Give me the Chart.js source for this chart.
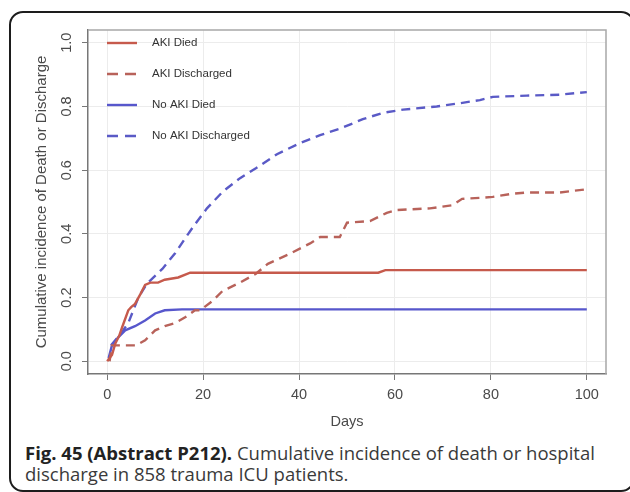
<!DOCTYPE html>
<html>
<head>
<meta charset="utf-8">
<script src="https://cdn.jsdelivr.net/npm/chart.js@4/dist/chart.umd.min.js"></script>
<style>
  html, body { margin: 0; padding: 0; background: #fff; }
  #page { position: relative; width: 630px; height: 492px; overflow: hidden; }
  #frame {
    position: absolute; left: 9px; top: 11px; width: 626px; height: 481px;
    border: 2px solid #1d1d1d; border-radius: 14px; box-sizing: border-box;
  }
  #chart { position: absolute; left: 0; top: 0; }
  #caption {
    position: absolute; left: 25px; top: 442px; width: 600px;
    font-family: "Open Sans", sans-serif; font-size: 18.5px; line-height: 21px;
    color: #3a3a3a;
  }
  #caption b { font-weight: 700; color: #222; }
</style>
</head>
<body>
<div id="page">
  <div id="frame"></div>
  <canvas id="chart" width="630" height="440"></canvas>
  <div id="caption"><b>Fig. 45 (Abstract P212).</b> Cumulative incidence of death or hospital discharge in 858 trauma ICU patients.</div>
</div>
<script>
// Series (days, cumulative incidence)
const seriesLabels = ["AKI Died", "AKI Discharged", "No AKI Died", "No AKI Discharged"];

const akiDiedDays = [0, 0.5, 1, 1.7, 2.5, 3.1, 4.4, 5, 5.8, 6.9, 7.9, 9, 10.6, 12, 14.8, 17.3, 56.5, 58, 100];
const akiDiedValues = [0, 0.01, 0.02, 0.056, 0.08, 0.106, 0.16, 0.17, 0.18, 0.21, 0.24, 0.247, 0.247, 0.256, 0.263, 0.278, 0.278, 0.286, 0.286];

const akiDischargedDays = [0.5, 1, 6, 7.9, 10, 12, 14.2, 16.25, 18.3, 19.4, 22, 24, 27.7, 31, 33.5, 38, 42.3, 44.4, 48.5, 50, 54.8, 58.3, 60.4, 67.3, 72, 74, 77.7, 80.4, 84, 87.5, 94.4, 100];
const akiDischargedValues = [0, 0.05, 0.05, 0.066, 0.097, 0.11, 0.12, 0.138, 0.16, 0.16, 0.19, 0.22, 0.247, 0.275, 0.306, 0.337, 0.37, 0.39, 0.39, 0.435, 0.44, 0.466, 0.475, 0.48, 0.49, 0.51, 0.513, 0.516, 0.525, 0.53, 0.53, 0.54];

const noAkiDiedDays = [0.3, 1, 2.3, 3.75, 5.8, 7.9, 10, 12, 15.6, 100];
const noAkiDiedValues = [0.01, 0.05, 0.075, 0.097, 0.11, 0.128, 0.15, 0.16, 0.163, 0.163];

const noAkiDischargedDays = [0.8, 3, 4.4, 6.5, 8.3, 11.5, 14.2, 16.9, 18.3, 20.8, 24.2, 27.7, 31, 35.4, 40.2, 44.4, 48.5, 53.3, 57.5, 61.7, 68.7, 73.5, 77.7, 80.4, 87.5, 94.4, 100];
const noAkiDischargedValues = [0.05, 0.09, 0.12, 0.2, 0.244, 0.29, 0.34, 0.4, 0.43, 0.48, 0.534, 0.575, 0.606, 0.65, 0.685, 0.71, 0.73, 0.76, 0.78, 0.79, 0.8, 0.81, 0.82, 0.83, 0.834, 0.837, 0.845];

const xTicks = [0, 20, 40, 60, 80, 100];
const yTicks = [0, 0.2, 0.4, 0.6, 0.8, 1.0];
const yTickLabels = ["0.0", "0.2", "0.4", "0.6", "0.8", "1.0"];
const xTitle = "Days";
const yTitle = "Cumulative incidence of Death or Discharge";

const RED = "#c65a4c";
const RED_DASH = "#b8625a";
const BLUE = "#5757cc";
const BLUE_DASH = "#5a5ac6";
const AXIS_FONT = "Liberation Sans, Arial, sans-serif";

function toPoints(days, values) {
  return days.map((d, i) => ({ x: d, y: values[i] }));
}

const datasets = [
  { label: seriesLabels[0], data: toPoints(akiDiedDays, akiDiedValues), borderColor: RED, borderDash: [] },
  { label: seriesLabels[1], data: toPoints(akiDischargedDays, akiDischargedValues), borderColor: RED_DASH, borderDash: [9, 6] },
  { label: seriesLabels[2], data: toPoints(noAkiDiedDays, noAkiDiedValues), borderColor: BLUE, borderDash: [] },
  { label: seriesLabels[3], data: toPoints(noAkiDischargedDays, noAkiDischargedValues), borderColor: BLUE_DASH, borderDash: [9, 6] },
].map((ds) => ({ ...ds, borderWidth: 2.4, pointRadius: 0, tension: 0, fill: false }));

// Box on top/right, rotated y labels, y title and the inner legend
const decorations = {
  id: "decorations",
  beforeDatasetsDraw(chart) {
    const { ctx, chartArea: a } = chart;
    ctx.save();
    ctx.strokeStyle = "#a8a8a8";
    ctx.lineWidth = 1.5;
    ctx.beginPath();
    ctx.moveTo(a.left, a.top);
    ctx.lineTo(a.right, a.top);
    ctx.lineTo(a.right, a.bottom);
    ctx.stroke();
    ctx.restore();
  },
  afterDraw(chart) {
    const { ctx, chartArea: a } = chart;
    const yScale = chart.scales.y;
    ctx.save();
    ctx.fillStyle = "#4a4a4a";
    ctx.font = "14.5px " + AXIS_FONT;
    ctx.textAlign = "center";
    ctx.textBaseline = "middle";
    yTicks.forEach((v, i) => {
      ctx.save();
      ctx.translate(67, yScale.getPixelForValue(v));
      ctx.rotate(-Math.PI / 2);
      ctx.fillText(yTickLabels[i], 0, 0);
      ctx.restore();
    });
    ctx.save();
    ctx.translate(42, (a.top + a.bottom) / 2);
    ctx.rotate(-Math.PI / 2);
    ctx.font = "15px " + AXIS_FONT;
    ctx.fillText(yTitle, 0, 0);
    ctx.restore();

    // legend
    ctx.font = "11.5px " + AXIS_FONT;
    ctx.textAlign = "left";
    chart.data.datasets.forEach((ds, i) => {
      const y = 43 + i * 31;
      ctx.beginPath();
      ctx.strokeStyle = ds.borderColor;
      ctx.lineWidth = 2.4;
      ctx.setLineDash(ds.borderDash.length ? [11, 7] : []);
      ctx.moveTo(107, y);
      ctx.lineTo(137, y);
      ctx.stroke();
      ctx.setLineDash([]);
      ctx.fillStyle = "#333";
      ctx.fillText(ds.label, 152, y);
    });
    ctx.restore();
  },
};

new Chart(document.getElementById("chart"), {
  type: "line",
  data: { datasets },
  options: {
    responsive: false,
    animation: false,
    devicePixelRatio: 1,
    layout: { padding: { left: 0, top: 30, right: 24, bottom: 0 } },
    plugins: { legend: { display: false }, tooltip: { enabled: false } },
    scales: {
      x: {
        type: "linear",
        min: -4,
        max: 104,
        afterFit: (s) => { s.height = 66; },
        afterBuildTicks: (s) => { s.ticks = xTicks.map((v) => ({ value: v })); },
        ticks: { color: "#4a4a4a", font: { family: AXIS_FONT, size: 14.5 }, padding: 6, maxRotation: 0 },
        grid: { color: "#ececec", lineWidth: 1, tickColor: "#777", tickLength: 6 },
        border: { color: "#777", width: 1.5 },
        title: { display: true, text: xTitle, color: "#4a4a4a", font: { family: AXIS_FONT, size: 14.5 }, padding: { top: 0, bottom: 9 } },
      },
      y: {
        type: "linear",
        min: -0.04,
        max: 1.04,
        afterFit: (s) => { s.width = 88; },
        afterBuildTicks: (s) => { s.ticks = yTicks.map((v) => ({ value: v })); },
        ticks: { display: false },
        grid: { color: "#ececec", lineWidth: 1, tickColor: "#777", tickLength: 6 },
        border: { color: "#777", width: 1.5 },
      },
    },
  },
  plugins: [decorations],
});
</script>
</body>
</html>
